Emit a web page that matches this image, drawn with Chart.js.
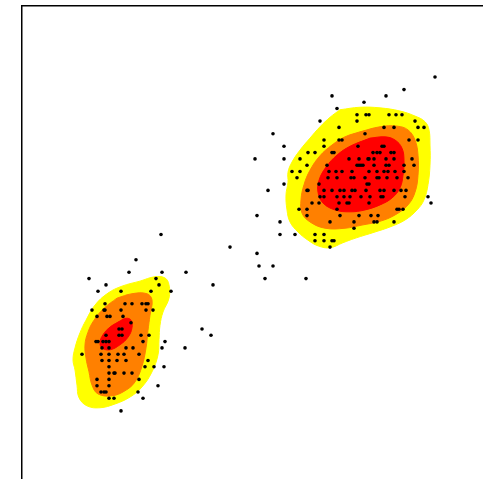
<!DOCTYPE html>
<html>
<head>
<meta charset="utf-8">
<script src="https://cdn.jsdelivr.net/npm/chart.js@4"></script>
<style>
  html, body { margin: 0; padding: 0; background: #fff; overflow: hidden; }
  .wrap { position: absolute; left: 0; top: 0; width: 540px; height: 540px; }
</style>
</head>
<body>
<div class="wrap"><canvas class="chart-js"></canvas></div>
<script>
const ctx = document.querySelector('.chart-js').getContext('2d');

// eruption length (min) of each observation
const eruptions = [
  5.13, 4.82, 4.64, 4.10, 4.42, 4.15, 4.35, 4.44, 4.47, 4.67, 4.74, 4.80,
  3.98, 4.35, 4.93, 4.17, 4.62, 4.72, 4.96, 5.02, 3.51, 4.43,
  4.02, 4.17, 4.20, 4.87, 4.96, 3.62, 4.02, 4.36, 4.60, 4.62,
  3.86, 3.93, 4.10, 4.12, 4.51, 4.55, 4.58, 4.69, 4.72,
  3.33, 3.62, 3.78, 4.27, 4.37, 4.46, 4.47, 4.52, 4.64, 4.72, 4.90,
  3.85, 4.05, 4.35, 4.37, 4.39, 4.41, 4.52, 4.64, 4.67, 4.82, 4.92,
  3.70, 3.78, 4.07, 4.14, 4.20, 4.30, 4.47, 4.55, 4.62, 4.66, 4.73, 4.82,
  3.75, 4.06, 4.15, 4.29, 4.32, 4.43, 4.55, 4.57, 4.65, 4.75, 4.86,
  3.62, 3.97, 4.45, 4.47,
  3.46, 3.85, 3.86, 4.02, 4.10, 4.18, 4.22, 4.30, 4.33, 4.44, 4.58, 4.62, 4.72, 4.79, 4.84,
  3.98, 4.02, 4.15, 4.22, 4.28, 4.39, 4.48, 4.59, 4.61, 4.83, 5.06,
  3.90, 3.97, 4.17, 4.25, 4.27, 4.47, 5.09,
  3.77, 3.85, 4.15, 4.75, 4.77, 4.81,
  3.35, 3.85, 4.18, 4.37, 4.49, 4.56,
  3.58, 4.08, 4.32, 4.52, 4.55, 4.72, 4.32,
  3.58, 3.73, 3.93, 4.02, 3.93, 4.02, 4.10, 4.12, 4.08,
  3.35, 3.08, 3.37, 3.51, 3.43, 3.84,
  2.39, 2.14, 2.07, 2.40, 2.64, 1.67, 2.34, 1.84, 2.37, 2.91,
  1.76, 1.99, 2.29, 2.49,
  1.83, 2.03, 2.10, 2.20, 2.24, 2.26,
  1.70, 1.82, 1.83, 1.99, 2.24, 2.31,
  1.75, 1.85, 1.88, 2.01, 2.09,
  1.97, 2.00, 2.80,
  1.84, 1.97, 2.00, 2.19, 2.27, 2.89,
  1.74, 1.76, 1.81, 1.84, 1.87, 2.21, 2.43,
  1.80, 1.87, 2.04, 2.11, 2.40, 2.63,
  1.60, 1.79, 1.87, 1.96, 2.02, 2.17,
  1.80, 1.87, 1.95, 2.04, 2.26,
  1.87, 2.23, 2.32, 2.42,
  1.87, 1.92, 1.93, 2.02, 2.10,
  1.75, 1.87, 2.17, 1.75, 1.87, 2.36,
  1.79, 1.82, 1.84, 2.16, 1.87, 1.92, 2.21, 1.99
];

// waiting time to next eruption (min)
const waiting = [
  96, 94, 93, 93, 92, 91, 90, 90, 90, 90, 90, 90,
  89, 89, 89, 88, 88, 88, 88, 88, 87, 87,
  86, 86, 86, 86, 86, 85, 85, 85, 85, 85,
  84, 84, 84, 84, 84, 84, 84, 84, 84,
  83, 83, 83, 83, 83, 83, 83, 83, 83, 83, 83,
  82, 82, 82, 82, 82, 82, 82, 82, 82, 82, 82,
  81, 81, 81, 81, 81, 81, 81, 81, 81, 81, 81, 81,
  80, 80, 80, 80, 80, 80, 80, 80, 80, 80, 80,
  79, 79, 79, 79,
  78, 78, 78, 78, 78, 78, 78, 78, 78, 78, 78, 78, 78, 78, 78,
  77, 77, 77, 77, 77, 77, 77, 77, 77, 77, 77,
  76, 76, 76, 76, 76, 76, 76,
  75, 75, 75, 75, 75, 75,
  74, 74, 74, 74, 74, 74,
  73, 73, 73, 73, 73, 73, 72,
  71, 71, 71, 71, 70, 70, 70, 70, 69,
  68, 69, 66, 66, 64, 64,
  71, 67, 65, 65, 65, 64, 64, 63, 63, 63,
  62, 62, 62, 62,
  60, 60, 60, 60, 60, 60,
  59, 59, 59, 59, 59, 59,
  58, 58, 58, 58, 57,
  56, 56, 56,
  55, 55, 55, 55, 55, 55,
  54, 54, 54, 54, 54, 54, 54,
  53, 53, 53, 53, 53, 53,
  52, 52, 52, 52, 52, 52,
  51, 51, 51, 51, 51,
  50, 50, 50, 50,
  49, 49, 49, 49, 49,
  48, 48, 48, 47, 47, 47,
  46, 46, 46, 46, 45, 45, 45, 43
];

// density contour outlines: [eruptions, waiting] pairs
const upperLow = [
  [4.18, 90.8], [4.38, 91.2], [4.58, 91.1], [4.78, 90.6], [4.93, 89.8], [5.03, 88.9],
  [5.07, 87.6], [5.08, 85.2], [5.08, 82.0], [5.06, 78.9], [5.02, 76.5], [4.95, 74.9],
  [4.83, 73.3], [4.68, 72.2], [4.53, 71.4], [4.33, 70.4], [4.21, 69.7], [4.08, 68.9],
  [3.96, 69.2], [3.86, 70.1], [3.76, 71.4], [3.68, 73.0], [3.65, 74.9], [3.64, 77.3],
  [3.66, 79.3], [3.66, 80.9], [3.70, 82.5], [3.78, 84.4], [3.88, 86.3], [3.98, 88.1],
  [4.08, 89.6], [4.18, 90.8]
];
const upperMid = [
  [4.38, 87.3], [4.58, 88.1], [4.75, 88.2], [4.86, 87.6], [4.93, 86.0], [4.96, 83.6],
  [4.96, 80.4], [4.93, 77.7], [4.86, 75.7], [4.73, 74.1], [4.58, 73.1], [4.40, 72.5],
  [4.23, 72.0], [4.03, 72.0], [3.88, 73.0], [3.80, 74.4], [3.79, 76.5], [3.82, 78.9],
  [3.88, 81.2], [3.98, 83.5], [4.10, 85.2], [4.23, 86.5], [4.38, 87.3]
];
const upperHigh = [
  [4.48, 86.3], [4.63, 86.5], [4.73, 86.0], [4.80, 84.7], [4.82, 82.8], [4.81, 80.4],
  [4.78, 78.4], [4.70, 76.8], [4.58, 75.7], [4.43, 74.9], [4.28, 74.6], [4.13, 74.9],
  [4.01, 76.0], [3.96, 77.7], [3.97, 79.6], [4.04, 81.7], [4.15, 83.6], [4.28, 85.0],
  [4.48, 86.3]
];
const lowerLow = [
  [2.18, 63.6], [2.33, 64.3], [2.43, 64.1], [2.47, 63.0], [2.47, 60.9], [2.41, 58.7],
  [2.38, 56.6], [2.37, 54.3], [2.36, 51.9], [2.30, 49.2], [2.20, 46.8], [2.08, 45.2],
  [1.93, 44.1], [1.78, 43.5], [1.65, 43.8], [1.57, 45.1], [1.55, 47.1], [1.53, 49.5],
  [1.51, 51.1], [1.53, 53.0], [1.58, 55.4], [1.64, 57.4], [1.73, 59.8], [1.86, 61.7],
  [2.00, 62.8], [2.18, 63.6]
];
const lowerMid = [
  [1.95, 60.9], [2.10, 61.6], [2.25, 61.6], [2.30, 60.6], [2.28, 58.2], [2.26, 55.8],
  [2.24, 53.0], [2.20, 50.1], [2.13, 47.6], [2.03, 46.2], [1.90, 45.4], [1.76, 45.7],
  [1.70, 47.1], [1.67, 49.2], [1.64, 51.4], [1.63, 53.5], [1.66, 55.5], [1.72, 57.4],
  [1.82, 59.3], [1.95, 60.9]
];
const lowerHigh = [
  [1.96, 57.1], [2.04, 57.7], [2.09, 57.4], [2.10, 56.2], [2.06, 54.7], [1.98, 53.5],
  [1.88, 52.7], [1.80, 53.0], [1.78, 53.9], [1.81, 55.1], [1.88, 56.3], [1.96, 57.1]
];

const YELLOW = '#ffff00';
const ORANGE = '#ff8000';
const RED = '#ff0000';

const toXY = arr => arr.map(([x, y]) => ({ x, y }));

function contour(shape, color, order) {
    return {
        data: toXY(shape),
        showLine: true,
        fill: 'shape',
        backgroundColor: color,
        borderColor: color,
        borderWidth: 1,
        pointRadius: 0,
        tension: 0.4,
        order: order,
    };
}

const frame = {
    id: 'frame',
    afterDraw(chart) {
        const { left, top, right, bottom } = chart.chartArea;
        const c = chart.ctx;
        c.save();
        c.strokeStyle = '#000';
        c.lineWidth = 1.5;
        c.strokeRect(left - 0.25, top - 0.25, right - left, bottom - top);
        c.restore();
    }
};

new Chart(ctx, {
    type: 'scatter',
    data: {
        datasets: [
            {
                data: eruptions.map((e, i) => ({ x: e, y: waiting[i] })),
                backgroundColor: '#000',
                borderWidth: 0,
                pointRadius: 1.8,
                order: 0,
            },
            contour(upperHigh, RED, 1),
            contour(lowerHigh, RED, 1),
            contour(upperMid, ORANGE, 2),
            contour(lowerMid, ORANGE, 2),
            contour(upperLow, YELLOW, 3),
            contour(lowerLow, YELLOW, 3),
        ]
    },
    options: {
        responsive: true,
        maintainAspectRatio: false,
        animation: false,
        layout: { padding: { left: 22, top: 6, right: 18, bottom: 16 } },
        plugins: { legend: { display: false }, tooltip: { enabled: false } },
        scales: {
            x: { type: 'linear', display: false, min: 1.0, max: 6.0 },
            y: { type: 'linear', display: false, min: 25.05, max: 107.27 }
        }
    },
    plugins: [frame]
});
</script>
</body>
</html>
